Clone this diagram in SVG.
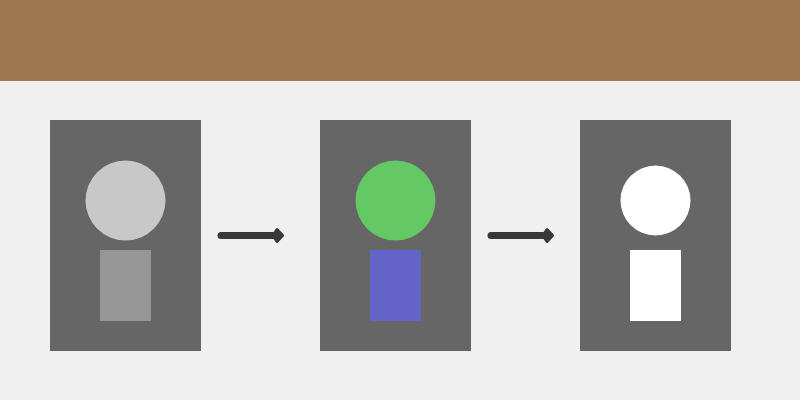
<svg xmlns="http://www.w3.org/2000/svg" width="800" height="400" viewBox="0 0 800 400">
<style>
.panel{fill:#666}
.conn{fill:none;stroke:#383838;stroke-width:7;stroke-linecap:round;marker-end:url(#head)}
</style>
<defs>
<marker id="head" markerUnits="userSpaceOnUse" markerWidth="16" markerHeight="20" refX="2" refY="10" orient="auto">
<path d="M2 10 L6 4 L11.500 10 L6 16 Z" fill="#383838" stroke="#383838" stroke-width="3" stroke-linejoin="round"/>
</marker>
</defs>
<rect width="800" height="400" fill="#f0f0f0"/>
<rect id="band" width="800" height="81" fill="#a07850"/>
<g id="node-1">
<rect class="panel" x="50" y="120" width="151" height="231"/>
<circle cx="125.500" cy="200.500" r="40" fill="#c8c8c8"/>
<rect x="100" y="250" width="51" height="71" fill="#969696"/>
</g>
<g id="node-2">
<rect class="panel" x="320" y="120" width="151" height="231"/>
<circle cx="395.500" cy="200.500" r="40" fill="#64c864"/>
<rect x="370" y="250" width="51" height="71" fill="#6464c8"/>
</g>
<g id="node-3">
<rect class="panel" x="580" y="120" width="151" height="231"/>
<circle cx="655.500" cy="200.500" r="35" fill="#fff"/>
<rect x="630" y="250" width="51" height="71" fill="#fff"/>
</g>
<g id="connectors">
<path class="conn" d="M221 235.500H273"/>
<path class="conn" d="M491 235.500H543"/>
</g>
</svg>
